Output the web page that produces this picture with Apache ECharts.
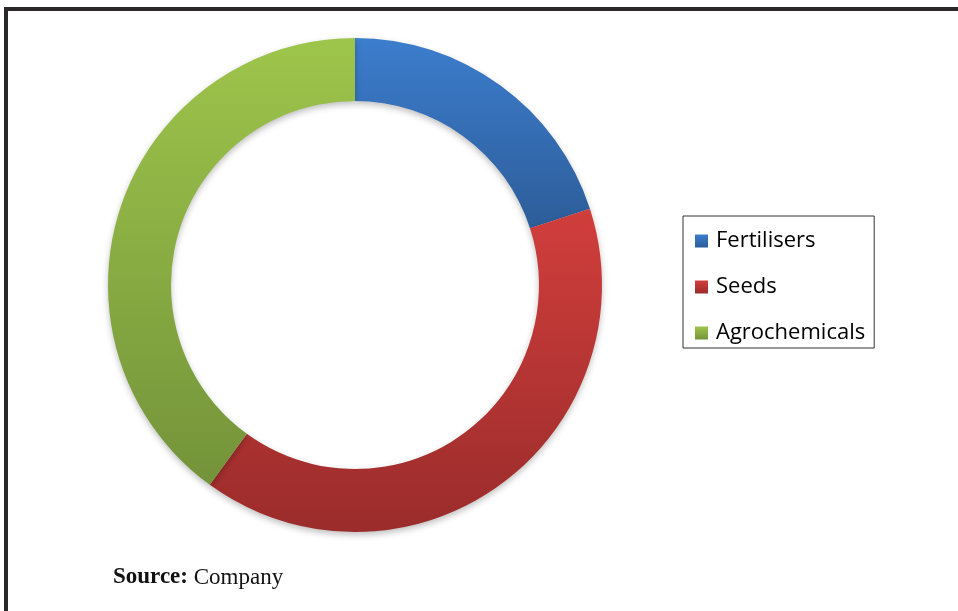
<!DOCTYPE html>
<html>
<head>
<meta charset="utf-8">
<script src="https://cdn.jsdelivr.net/npm/echarts@6/dist/echarts.min.js"></script>
<style>
  html, body { margin: 0; padding: 0; background: #fff; }
  #chart { width: 958px; height: 611px; }
</style>
</head>
<body>
<div id="chart"></div>
<script>
// segment names and shares (percent)
const categories = ['Fertilisers', 'Seeds', 'Agrochemicals']
const shares = [20, 40, 40]
// top / bottom colours of each segment's gradient
const topColors = ['#3c7dcd', '#d13e3c', '#9ec54b']
const bottomColors = ['#2d5d99', '#9a2c2b', '#74933a']

const grad = (i) => ({
  type: 'linear',
  x: 0, y: 0, x2: 0, y2: 1,
  colorStops: [
    { offset: 0, color: topColors[i] },
    { offset: 1, color: bottomColors[i] }
  ]
})

const chart = echarts.init(document.getElementById('chart'))

const option = {
  animation: false,
  backgroundColor: '#fff',
  legend: {
    orient: 'vertical',
    left: 683,
    top: 216,
    padding: [14, 9, 4, 12],
    itemGap: 24,
    itemWidth: 13,
    itemHeight: 13,
    icon: 'rect',
    borderColor: '#333',
    borderWidth: 1,
    textStyle: {
      fontFamily: 'Open Sans',
      fontSize: 22,
      lineHeight: 22,
      color: '#000',
      padding: [0, 0, 0, 3]
    },
    data: categories.map((name, i) => ({
      name,
      itemStyle: { color: grad(i) }
    }))
  },
  title: {
    left: 108,
    top: 561,
    text: '{b|Source:} Company',
    textStyle: {
      fontFamily: 'Liberation Serif',
      fontSize: 23,
      fontWeight: 'normal',
      color: '#111',
      rich: {
        b: {
          fontFamily: 'Liberation Serif',
          fontSize: 23,
          fontWeight: 'bold',
          color: '#111'
        }
      }
    }
  },
  graphic: [
    { type: 'rect', shape: { x: 4, y: 7, width: 954, height: 4 }, style: { fill: '#2a2828' } },
    { type: 'rect', shape: { x: 4, y: 7, width: 4, height: 604 }, style: { fill: '#2a2828' } }
  ],
  series: [{
    type: 'pie',
    center: [355, 285],
    radius: [184, 247],
    startAngle: 90,
    clockwise: true,
    label: { show: false },
    labelLine: { show: false },
    emphasis: { disabled: true },
    itemStyle: {
      borderWidth: 0,
      shadowBlur: 6,
      shadowOffsetY: 3,
      shadowColor: 'rgba(0,0,0,0.25)'
    },
    data: categories.map((name, i) => ({
      name,
      value: shares[i],
      itemStyle: { color: grad(i) }
    }))
  }]
}

chart.setOption(option)
</script>
</body>
</html>
